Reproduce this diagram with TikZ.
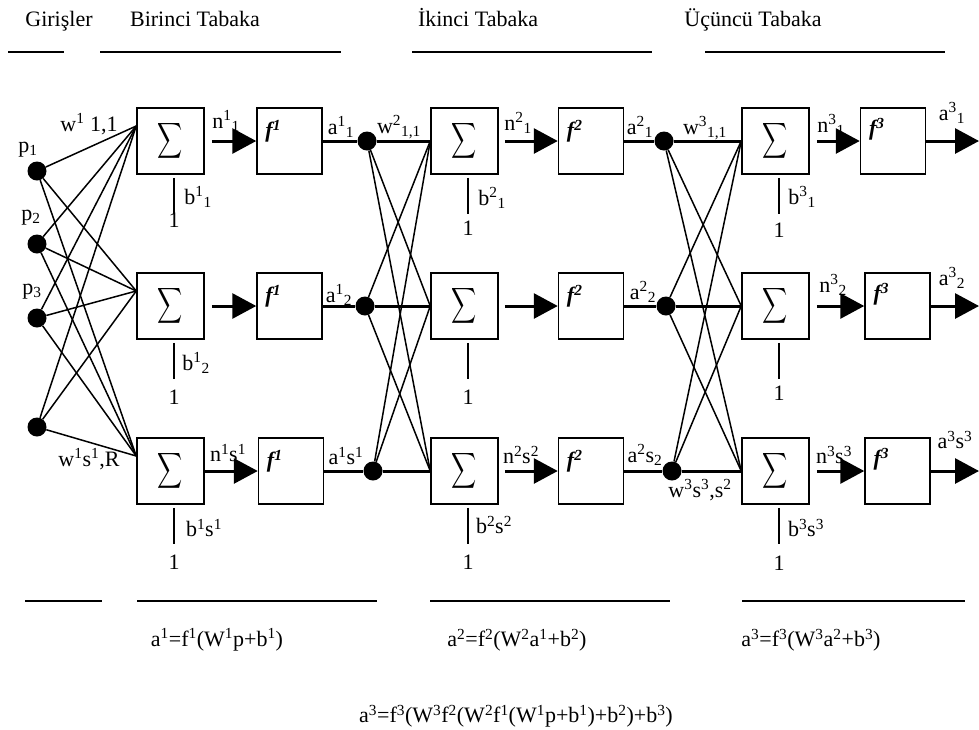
\documentclass[tikz,border=0pt]{standalone}
\usepackage{amsmath}
\usepackage{fontspec}
\setmainfont{Liberation Serif}
\usetikzlibrary{arrows.meta,positioning}
\newcommand{\supr}[1]{\textsuperscript{#1}}
\newcommand{\subr}[1]{\textsubscript{#1}}
\newcommand{\lblsize}{\fontsize{22}{25}\selectfont}
\newcommand{\sumsym}{{\fontsize{27}{30}\selectfont\scalebox{0.7}[1]{$\displaystyle\sum$}}}
\newcommand{\ffun}[1]{{\bfseries\itshape f\supr{#1}}}
\begin{document}
\begin{tikzpicture}[x=1pt,y=-1pt,every node/.style={font=\lblsize,inner sep=1pt},
  sumbox/.style={draw,line width=1.5pt,minimum width=67pt,minimum height=66pt,inner sep=0pt},
  fbox/.style={draw,line width=1.5pt,minimum width=65pt,minimum height=66pt},
  dot/.style={circle,fill,minimum size=19pt,inner sep=0pt},
  wire/.style={line width=1.5pt},
  sig/.style={line width=3pt},
  arr/.style={line width=3pt,-{Triangle[length=24pt,width=25pt]}},
  rule/.style={line width=1.8pt},
  head/.style={anchor=base}]
\useasboundingbox (0,0) rectangle (979,729);
\node[head] (tg) at (59,26) {Girişler};
\node[head] (tb) at (195,26) {Birinci Tabaka};
\node[head] (ti) at (478,26) {İkinci Tabaka};
\node[head] (tu) at (753,26) {Üçüncü Tabaka};
\draw[rule] (8,52) -- (64,52); \draw[rule] (100,52) -- (341,52);
\draw[rule] (412,52) -- (652,52); \draw[rule] (705,52) -- (945,52);
\node[dot] (p1) at (37,171) {}; \node[dot] (p2) at (37,244) {};
\node[dot] (p3) at (37,318) {}; \node[dot] (p4) at (37,427) {};
\foreach \r/\y/\g/\fa/\fb/\da/\db in {1/141/7/289.5/893/367/664,2/306/7/289.5/897.5/365/666,3/471/0/291/897.5/373/672}{
  \node[sumbox] (s1\r) at (170.5,\y) {\sumsym};
  \node[fbox] (f1\r) at (\fa,\y) {};
  \node (fl1\r) at ([xshift=17pt,yshift=-24pt]f1\r.north west) {\ffun{1}};
  \node[dot] (d1\r) at (\da,\y) {};
  \node[sumbox] (s2\r) at (464.5,\y) {\sumsym};
  \node[fbox] (f2\r) at (591,\y) {};
  \node (fl2\r) at ([xshift=17pt,yshift=-24pt]f2\r.north west) {\ffun{2}};
  \node[dot] (d2\r) at (\db,\y) {};
  \node[sumbox] (s3\r) at (775.5,\y) {\sumsym};
  \node[fbox] (f3\r) at (\fb,\y) {};
  \node (fl3\r) at ([xshift=17pt,yshift=-22pt]f3\r.north west) {\ffun{3}};
  \coordinate (c\r) at ([yshift=15pt]s1\r.west);
  \coordinate (o\r) at (979,\y);
  \draw[arr] ([xshift=\g pt]s1\r.east) -- (f1\r.west);
  \draw[sig] (f1\r.east) -- (d1\r) -- (s2\r.west);
  \draw[arr] ([xshift=6pt]s2\r.east) -- (f2\r.west);
  \draw[sig] (f2\r.east) -- (d2\r) -- (s3\r.west);
  \draw[arr] ([xshift=7pt]s3\r.east) -- (f3\r.west);
  \draw[arr] (f3\r.east) -- (o\r);
}
\foreach \i in {1,...,4}
  \foreach \r in {1,2,3}
    \draw[wire] (p\i) -- (c\r);
\foreach \i in {1,2,3}
  \foreach \r in {1,2,3}{
    \draw[wire] (d1\i) -- (s2\r.west);
    \draw[wire] (d2\i) -- (s3\r.west);
  }
\foreach \r/\ya/\yb/\yc in {1/220/228/230,2/397/397/393,3/562/562/563}{
  \node (one1\r) at (174,\ya) {1};
  \node (one2\r) at (468,\yb) {1};
  \node (one3\r) at (779,\yc) {1};
  \foreach \k in {1,2,3}{
    \coordinate (be\k\r) at ([yshift=-39pt]s\k\r.south -| one\k\r);
    \draw[wire] ([yshift=-3pt]s\k\r.south -| one\k\r) -- (be\k\r);
  }
}
\node (lp1) at (28,150) {p\subr{1}};
\node (lp2) at (31,218) {p\subr{2}};
\node (lp3) at (32,292) {p\subr{3}};
\node (lw1) at (89,124) {w\supr{1} 1,1};
\node (lwR) at (89,459) {w\supr{1}s\supr{1},R};
\node (ln11) at (226,121) {n\supr{1}\subr{1}};
\node (ln13) at (228,453) {n\supr{1}s\supr{1}};
\node (lb11) at (198,197) {b\supr{1}\subr{1}};
\node (lb12) at (196,363) {b\supr{1}\subr{2}};
\node (lb13) at (204,528) {b\supr{1}s\supr{1}};
\node (la11) at (341,127) {a\supr{1}\subr{1}};
\node (la12) at (339,295) {a\supr{1}\subr{2}};
\node (la13) at (346,456) {a\supr{1}s\supr{1}};
\node (lw2) at (399,127) {w\supr{2}\subr{1,1}};
\node (ln21) at (518,123) {n\supr{2}\subr{1}};
\node (ln23) at (521,455) {n\supr{2}s\supr{2}};
\node (lb21) at (492,198) {b\supr{2}\subr{1}};
\node (lb23) at (494,525) {b\supr{2}s\supr{2}};
\node (la21) at (640,127) {a\supr{2}\subr{1}};
\node (la22) at (643,292) {a\supr{2}\subr{2}};
\node (la23) at (645,455) {a\supr{2}s\subr{2}};
\node (lw3) at (705,128) {w\supr{3}\subr{1,1}};
\node (lw3s) at (700,490) {w\supr{3}s\supr{3},s\supr{2}};
\node (ln31) at (831,125) {n\supr{3}\subr{1}};
\node (ln32) at (833,285) {n\supr{3}\subr{2}};
\node (ln33) at (834,455) {n\supr{3}s\supr{3}};
\node (lb31) at (802,197) {b\supr{3}\subr{1}};
\node (lb33) at (806,528) {b\supr{3}s\supr{3}};
\node (la31) at (952,113) {a\supr{3}\subr{1}};
\node (la32) at (952,278) {a\supr{3}\subr{2}};
\node (la33) at (955,440) {a\supr{3}s\supr{3}};
\draw[rule] (25,601) -- (102,601); \draw[rule] (137,601) -- (377,601);
\draw[rule] (430,601) -- (670,601); \draw[rule] (742,601) -- (965,601);
\node (eq1) at (217,640) {a\supr{1}=f\supr{1}(W\supr{1}p+b\supr{1})};
\node (eq2) at (517,640) {a\supr{2}=f\supr{2}(W\supr{2}a\supr{1}+b\supr{2})};
\node (eq3) at (811,640) {a\supr{3}=f\supr{3}(W\supr{3}a\supr{2}+b\supr{3})};
\node (eqall) at (516,716) {a\supr{3}=f\supr{3}(W\supr{3}f\supr{2}(W\supr{2}f\supr{1}(W\supr{1}p+b\supr{1})+b\supr{2})+b\supr{3})};
\end{tikzpicture}
\end{document}
